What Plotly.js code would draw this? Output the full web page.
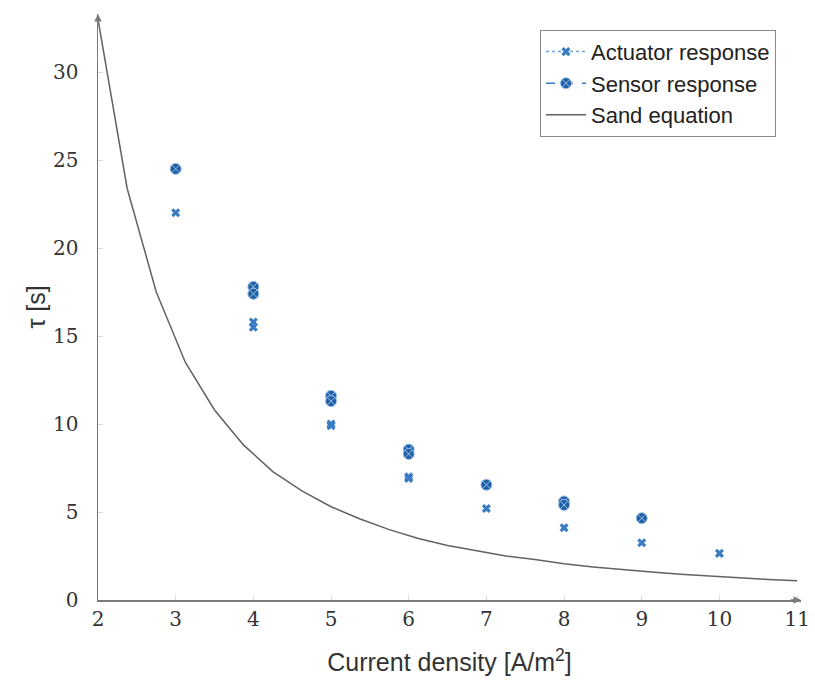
<!DOCTYPE html>
<html>
<head>
<meta charset="utf-8">
<script src="https://cdn.plot.ly/plotly-3.0.1.min.js"></script>
<style>html,body{margin:0;padding:0;background:#fff;}#chart{width:815px;height:684px;}</style>
</head>
<body>
<div id="chart"></div>
<script>
// Actuator response (x markers)
const actuatorX = [3, 4, 4, 5, 5, 6, 6, 7, 8, 9, 10];
const actuatorY = [22.0, 15.8, 15.5, 10.0, 9.9, 7.0, 6.9, 5.2, 4.1, 3.25, 2.65];
// Sensor response (circle-x markers)
const sensorX = [3, 4, 4, 5, 5, 6, 6, 7, 8, 8, 9];
const sensorY = [24.5, 17.8, 17.4, 11.6, 11.3, 8.55, 8.3, 6.55, 5.6, 5.4, 4.65];
const sandX = [2, 2.375, 2.75, 3.125, 3.5, 3.875, 4.25, 4.625, 5, 5.375, 5.75, 6.125, 6.5,
               6.875, 7.25, 7.625, 8, 8.375, 8.75, 9.125, 9.5, 9.875, 10.25, 10.625, 11];
const sandY = [33.0, 23.4, 17.5, 13.5, 10.8, 8.8, 7.3, 6.2, 5.3, 4.6, 4.0, 3.5, 3.1,
               2.8, 2.5, 2.3, 2.06, 1.88, 1.72, 1.59, 1.46, 1.35, 1.26, 1.17, 1.09];
const xTicks = [2, 3, 4, 5, 6, 7, 8, 9, 10, 11];
const yTicks = [0, 5, 10, 15, 20, 25, 30];

// isolate points with gaps so no connecting line is drawn (legend keeps line style)
function isolate(xs, ys) {
  const ox = [], oy = [];
  xs.forEach((x, i) => { if (i) { ox.push(null); oy.push(null); } ox.push(x); oy.push(ys[i]); });
  return {x: ox, y: oy};
}
const a = isolate(actuatorX, actuatorY);
const s = isolate(sensorX, sensorY);

const axisColor = '#7a7a7a';
const traces = [
  {x: a.x, y: a.y, name: 'Actuator response', mode: 'lines+markers', connectgaps: false,
   line: {color: '#6a9fd8', dash: 'dot', width: 1.5},
   marker: {symbol: 'x', size: 8, color: '#3b7dc4'}},
  {x: s.x, y: s.y, name: 'Sensor response', mode: 'lines+markers', connectgaps: false,
   line: {color: '#3b7dc4', dash: 'dash', width: 1.5},
   marker: {symbol: 'circle-x', size: 11, color: '#1f5fa6', line: {color: '#9cc0e8', width: 1}}},
  {x: sandX, y: sandY, name: 'Sand equation', mode: 'lines',
   line: {color: '#626262', width: 1.5}}
];

const layout = {
  width: 815, height: 684,
  margin: {l: 98, r: 14, t: 14, b: 84},
  paper_bgcolor: '#ffffff', plot_bgcolor: '#ffffff',
  showlegend: true,
  legend: {x: 0.9644, xanchor: 'right', y: 0.973, yanchor: 'top',
           bgcolor: '#ffffff', bordercolor: '#8a8a8a', borderwidth: 1,
           font: {family: 'Liberation Sans, Arial, sans-serif', size: 22, color: '#222'},
           itemwidth: 40, tracegroupgap: 0},
  xaxis: {range: [2, 11.05], tickvals: xTicks, ticktext: xTicks.map(String),
          showgrid: false, zeroline: false, showline: true, linecolor: axisColor, linewidth: 1.5,
          ticks: 'inside', ticklen: 5, tickcolor: '#dcdcdc', ticklabelstandoff: 0,
          tickfont: {family: 'DejaVu Serif, serif', size: 20, color: '#333'},
          title: {text: 'Current density [A/m<sup>2</sup>]', standoff: 24,
                  font: {family: 'Liberation Sans, Arial, sans-serif', size: 25, color: '#333'}}},
  yaxis: {range: [0, 33.3], tickvals: yTicks, ticktext: yTicks.map(String),
          showgrid: false, zeroline: false, showline: true, linecolor: axisColor, linewidth: 1.5,
          ticks: 'inside', ticklen: 5, tickcolor: '#dcdcdc', ticklabelstandoff: 14,
          tickfont: {family: 'DejaVu Serif, serif', size: 20, color: '#333'},
          title: {text: 'τ [s]', standoff: 0,
                  font: {family: 'Liberation Sans, Arial, sans-serif', size: 25, color: '#333'}}},
  annotations: [
    {x: 11.05, y: 0, xref: 'x', yref: 'y', ax: -12, ay: 0, text: '', showarrow: true,
     arrowhead: 2, arrowsize: 1, arrowwidth: 1.5, arrowcolor: axisColor},
    {x: 2, y: 33.3, xref: 'x', yref: 'y', ax: 0, ay: 12, text: '', showarrow: true,
     arrowhead: 2, arrowsize: 1, arrowwidth: 1.5, arrowcolor: axisColor}
  ]
};

Plotly.newPlot('chart', traces, layout, {displayModeBar: false, staticPlot: true});
</script>
</body>
</html>
